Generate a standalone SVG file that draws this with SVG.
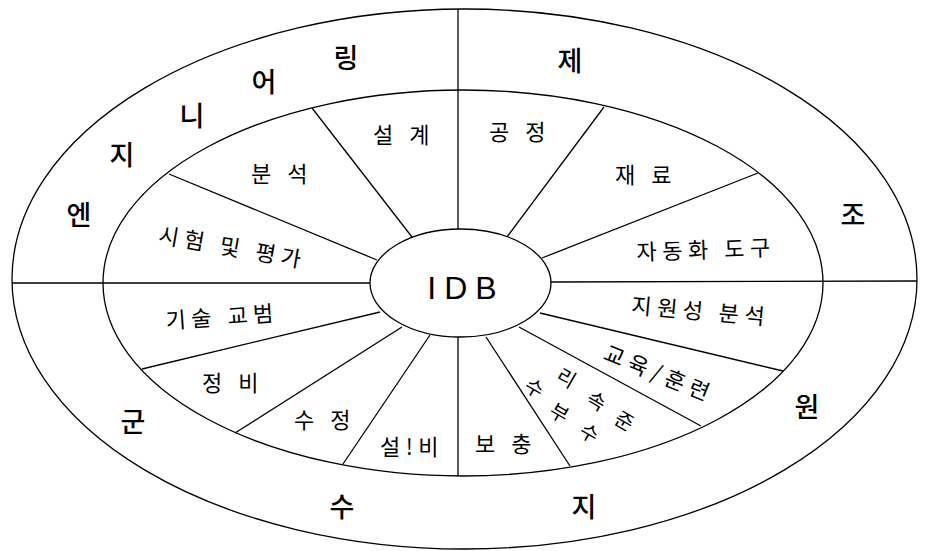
<svg xmlns="http://www.w3.org/2000/svg" width="927" height="551" viewBox="0 0 927 551">
<style>
.e{fill:none;stroke:#000;stroke-width:1.3}
.c line{stroke:#000;stroke-width:1.3}
.o{font-family:"Noto Sans CJK KR","Noto Sans",sans-serif;font-size:27px;font-weight:500;fill:#000;text-anchor:middle;dominant-baseline:central}
.i{font-family:"Noto Sans CJK KR","Noto Sans",sans-serif;font-size:22px;font-weight:400;fill:#000;text-anchor:middle;dominant-baseline:central;letter-spacing:5.5px}
.r{font-family:"Noto Sans CJK KR","Noto Sans",sans-serif;font-size:20px;font-weight:400;fill:#000;text-anchor:middle;dominant-baseline:central}
</style>
<rect width="927" height="551" fill="#fff"/>
<g id="outer"><ellipse class="e" cx="464.5" cy="279" rx="452.5" ry="270"/></g>
<g id="inner"><ellipse class="e" cx="463" cy="283" rx="360" ry="193"/></g>
<g id="connectors" class="c">
<line x1="458" y1="9" x2="458" y2="229"/>
<line x1="458" y1="337" x2="458" y2="476"/>
<line x1="12" y1="283" x2="370" y2="283"/>
<line x1="551" y1="282" x2="917" y2="281"/>
<line x1="412" y1="237" x2="312" y2="108"/>
<line x1="377" y1="260" x2="169" y2="174"/>
<line x1="507" y1="237" x2="604" y2="107"/>
<line x1="542" y1="258" x2="758" y2="173"/>
<line x1="380" y1="312" x2="142" y2="369"/>
<line x1="402" y1="327" x2="235" y2="433"/>
<line x1="430" y1="335" x2="343" y2="464"/>
<line x1="486" y1="337" x2="570" y2="466"/>
<line x1="519" y1="327" x2="701" y2="426"/>
<line x1="540" y1="313" x2="783" y2="371"/>
</g>
<g id="idb"><ellipse cx="460.5" cy="283" rx="90.5" ry="54" fill="#fff" stroke="#000" stroke-width="1.3"/>
<text x="466" y="288" font-family="Liberation Sans, Arial, sans-serif" font-size="32" text-anchor="middle" dominant-baseline="central" letter-spacing="8">IDB</text></g>
<g id="engineering">
<text class="o" x="79" y="213">엔</text>
<text class="o" x="122" y="153">지</text>
<text class="o" x="192" y="114">니</text>
<text class="o" x="264" y="80">어</text>
<text class="o" x="346" y="56">링</text>
</g>
<g id="manufacturing">
<text class="o" x="570" y="59">제</text>
<text class="o" x="853" y="213">조</text>
</g>
<g id="logistics">
<text class="o" x="133" y="420">군</text>
<text class="o" x="342" y="505">수</text>
<text class="o" x="584" y="505">지</text>
<text class="o" x="807" y="405">원</text>
</g>
<g id="design"><text class="i" x="404" y="133">설 계</text></g>
<g id="analysis"><text class="i" x="282" y="172">분 석</text></g>
<g id="test"><text class="i" x="233" y="245" transform="rotate(10 230 245)">시험 및 평가</text></g>
<g id="process"><text class="i" x="520" y="130">공 정</text></g>
<g id="material"><text class="i" x="646" y="173">재 료</text></g>
<g id="automation"><text class="i" x="706" y="248" transform="rotate(-2 703 248)">자동화 도구</text></g>
<g id="manual"><text class="i" x="222" y="315" transform="rotate(-4 219 315)">기술 교범</text></g>
<g id="maintenance"><text class="i" x="233" y="381">정 비</text></g>
<g id="modification"><text class="i" x="325" y="418">수 정</text></g>
<g id="facility"><text class="i" x="412" y="445" letter-spacing="1">설!비</text></g>
<g id="supply"><text class="i" x="506" y="442">보 충</text></g>
<g id="spares">
<text class="r" x="535" y="387" transform="rotate(30 535 387)">수</text>
<text class="r" x="567" y="377" transform="rotate(30 567 377)">리</text>
<text class="r" x="560" y="412" transform="rotate(30 560 412)">부</text>
<text class="r" x="597" y="400" transform="rotate(30 597 400)">속</text>
<text class="r" x="590" y="432" transform="rotate(30 590 432)">수</text>
<text class="r" x="625" y="420" transform="rotate(30 625 420)">준</text>
</g>
<g id="training"><text class="i" x="660" y="372" letter-spacing="1" transform="rotate(22 660 372)">교육/훈련</text></g>
<g id="supportability"><text class="i" x="701" y="309" transform="rotate(5 698 309)">지원성 분석</text></g>
</svg>
